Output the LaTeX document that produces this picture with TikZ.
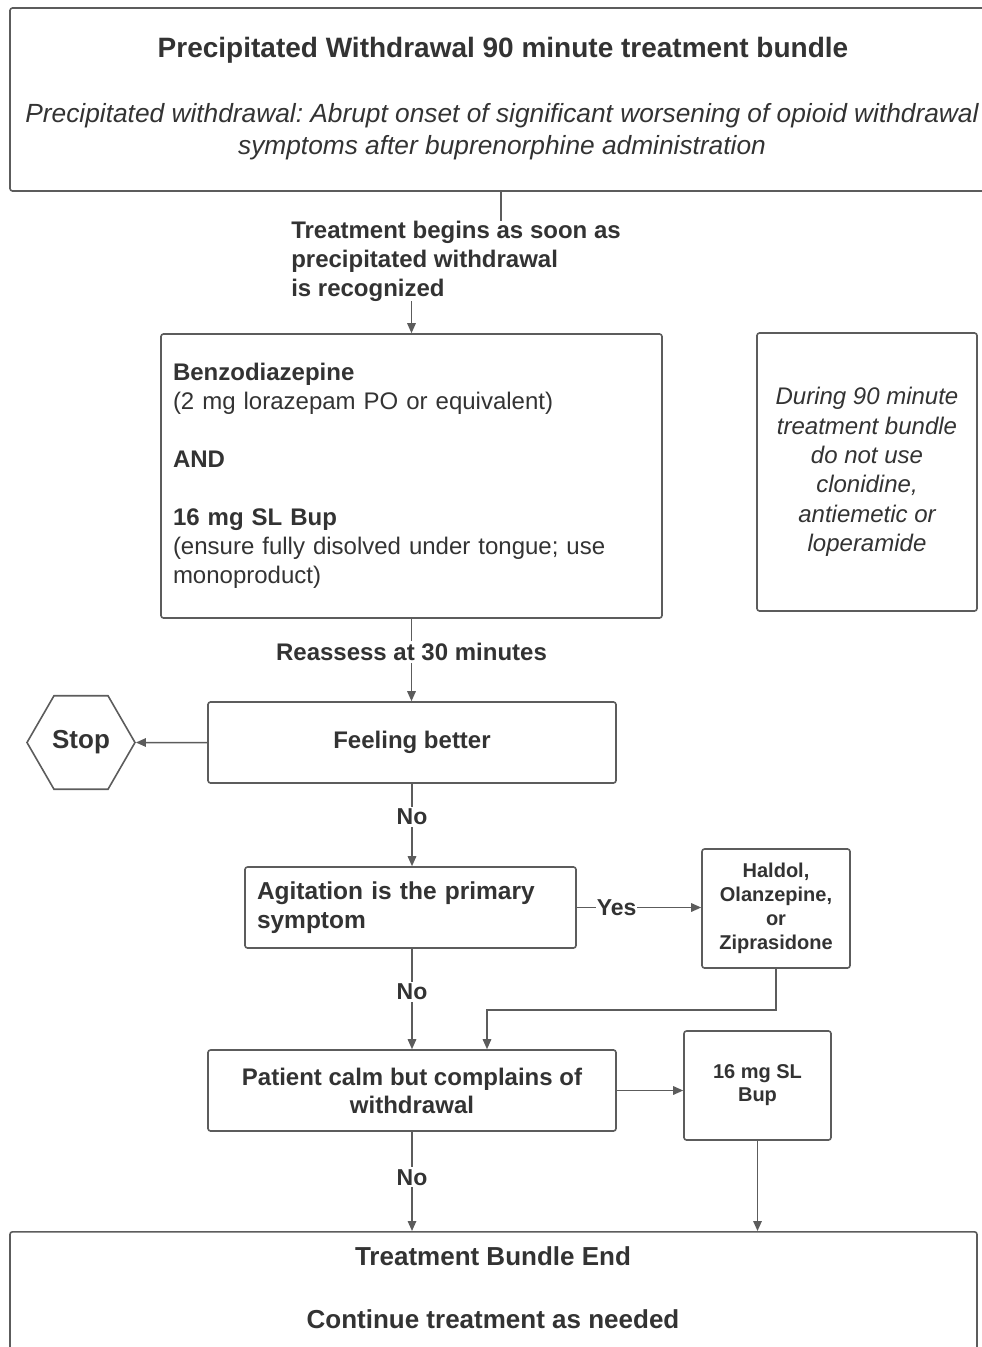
\documentclass[tikz,border=0pt]{standalone}
\usepackage{fontspec}
\setmainfont{Liberation Sans}
\usetikzlibrary{arrows.meta,shapes.geometric,calc}
\definecolor{lineC}{HTML}{5C5C5C}
\definecolor{textC}{HTML}{333333}
\frenchspacing
\begin{document}
\begin{tikzpicture}[x=1pt,y=-1pt,
  box/.style={draw=lineC, line width=1.6pt, rounded corners=2.5pt, fill=white, text=textC},
  arr/.style={draw=lineC, line width=1.5pt, -{Triangle[length=10pt,width=8.5pt]}},
  lab/.style={fill=white, text=textC, font=\fontsize{24}{29}\selectfont\bfseries, inner sep=2pt},
  txt/.style={text=textC, inner sep=0pt}
]
\useasboundingbox (0,0) rectangle (982,1347);
\clip (0,0) rectangle (982,1347);

% top box
\node[box, minimum width=984pt, minimum height=183pt] (top) at (502,99.5) {};
\node[txt, font=\fontsize{28}{34}\selectfont\bfseries] (title) at (503,50.5) {Precipitated Withdrawal 90 minute treatment bundle};
\node[txt, align=center, font=\fontsize{26.3}{32}\selectfont\itshape] (def) at (502,131.5) {Precipitated withdrawal: Abrupt onset of significant worsening of opioid withdrawal\\symptoms after buprenorphine administration};

% benzo box
\node[box, minimum width=501pt, minimum height=284pt, text width=477pt, inner xsep=12pt, align=left,
      font=\fontsize{24}{29}\selectfont] (benzo) at (411.5,476)
  {\textbf{Benzodiazepine}\\(2 mg lorazepam PO or equivalent)\\[29pt]\textbf{AND}\\[29pt]\textbf{16 mg SL Bup}\\(ensure fully disolved under tongue; use\\monoproduct)};

% note box
\node[box, minimum width=220pt, minimum height=278pt, align=center,
      font=\fontsize{24}{29.3}\selectfont\itshape] (note) at (867,472)
  {During 90 minute\\treatment bundle\\do not use\\clonidine,\\antiemetic or\\loperamide};

% feeling better
\node[box, minimum width=408pt, minimum height=81pt, font=\fontsize{24}{29}\selectfont\bfseries] (feel) at (412,742.5) {Feeling better};

% stop
\node[draw=lineC, line width=1.6pt, regular polygon, regular polygon sides=6, minimum size=108pt, inner sep=0pt,
      text=textC, font=\fontsize{26}{30}\selectfont\bfseries] (stop) at (81,742.5) {Stop};

% agitation
\node[box, minimum width=331pt, minimum height=81pt, text width=307pt, inner xsep=12pt, align=left,
      font=\fontsize{24.5}{29}\selectfont\bfseries] (agit) at (410.5,907.5) {Agitation is the primary\\symptom};

% haldol
\node[box, minimum width=148pt, minimum height=119pt, align=center,
      font=\fontsize{20}{24}\selectfont\bfseries] (hal) at (776,908.5) {Haldol,\\Olanzepine,\\or\\Ziprasidone};

% patient
\node[box, minimum width=408pt, minimum height=81pt, align=center,
      font=\fontsize{24}{28}\selectfont\bfseries] (pat) at (412,1090.5) {Patient calm but complains of\\withdrawal};

% bup
\node[box, minimum width=147pt, minimum height=109pt, align=center,
      font=\fontsize{20}{23}\selectfont\bfseries] (bup) at (757.5,1085.5) {16 mg SL\\Bup};

% end box
\node[box, minimum width=967pt, minimum height=160pt, anchor=north] (endb) at (493.5,1231) {};
\node[txt, font=\fontsize{26}{31}\selectfont\bfseries] (endt1) at (493,1256) {Treatment Bundle End};
\node[txt, font=\fontsize{26}{31}\selectfont\bfseries] (endt2) at (493,1319) {Continue treatment as needed};

% connectors
\coordinate (tb) at (501,258);
\draw[arr] (top.south -| tb) -- (tb) -| (benzo.north);
\node[lab, inner sep=0pt, align=left] (l1) at (456,261) {Treatment begins as soon as\\precipitated withdrawal\\is recognized};

\draw[arr] (benzo.south) -- node[lab, pos=0.4] (l2) {Reassess at 30 minutes} (benzo.south |- feel.north);
\draw[arr] (feel.west) -- (stop.east);
\draw[arr] (feel.south) -- node[lab, pos=0.4, font=\fontsize{23}{28}\selectfont\bfseries] (l3) {No} (feel.south |- agit.north);
\draw[arr] (agit.east) -- node[lab, pos=0.32, inner xsep=1pt, font=\fontsize{23}{28}\selectfont\bfseries] (l4) {Yes} (agit.east -| hal.west);
\draw[arr] (agit.south -| feel.south) -- node[lab, pos=0.43, font=\fontsize{23}{28}\selectfont\bfseries] (l5) {No} (pat.north);
\coordinate (bend) at (487,1010);
\draw[arr] (hal.south) |- (bend) -- (bend |- pat.north);
\draw[arr] (pat.east) -- (pat.east -| bup.west);
\draw[arr] (pat.south) -- node[lab, pos=0.46, font=\fontsize{23}{28}\selectfont\bfseries] (l6) {No} (pat.south |- endb.north);
\draw[arr] (bup.south) -- (bup.south |- endb.north);
\end{tikzpicture}
\end{document}
